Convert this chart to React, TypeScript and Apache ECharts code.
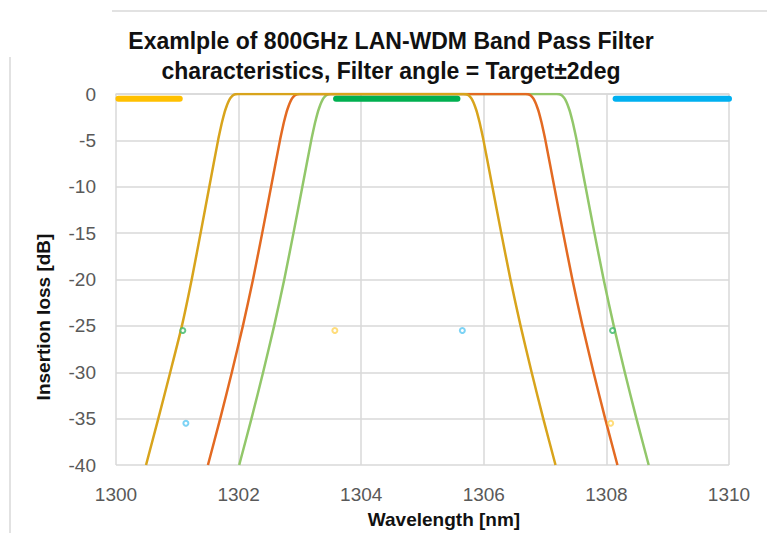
import React, { useEffect, useRef } from "react";
import * as echarts from "echarts";

// Filter transmission curves: [wavelength nm, insertion loss dB]
const goldCurve: number[][] = [
  [1300.49, -40], [1300.69, -35], [1300.885, -30], [1301.075, -25], [1301.235, -20],
  [1301.38, -15], [1301.522, -10], [1301.665, -5], [1301.697, -4], [1301.731, -3],
  [1301.77, -2], [1301.8, -1.4], [1301.83, -0.9], [1301.86, -0.5], [1301.89, -0.25],
  [1301.92, -0.1], [1301.95, -0.03], [1301.99, 0],
  [1305.67, 0], [1305.71, -0.03], [1305.74, -0.1], [1305.77, -0.25], [1305.8, -0.5],
  [1305.83, -0.9], [1305.86, -1.4], [1305.89, -2], [1305.929, -3], [1305.963, -4],
  [1305.995, -5], [1306.14, -10], [1306.285, -15], [1306.435, -20], [1306.6, -25],
  [1306.78, -30], [1306.97, -35], [1307.17, -40],
];
const orangeCurve: number[][] = [
  [1301.5, -40], [1301.7, -35], [1301.89, -30], [1302.07, -25], [1302.235, -20],
  [1302.385, -15], [1302.53, -10], [1302.675, -5], [1302.707, -4], [1302.741, -3],
  [1302.78, -2], [1302.81, -1.4], [1302.84, -0.9], [1302.87, -0.5], [1302.9, -0.25],
  [1302.93, -0.1], [1302.96, -0.03], [1303.0, 0],
  [1306.68, 0], [1306.72, -0.03], [1306.75, -0.1], [1306.78, -0.25], [1306.81, -0.5],
  [1306.84, -0.9], [1306.87, -1.4], [1306.9, -2], [1306.939, -3], [1306.973, -4],
  [1307.005, -5], [1307.15, -10], [1307.295, -15], [1307.445, -20], [1307.61, -25],
  [1307.79, -30], [1307.98, -35], [1308.18, -40],
];
const greenCurve: number[][] = [
  [1302.01, -40], [1302.21, -35], [1302.4, -30], [1302.58, -25], [1302.745, -20],
  [1302.895, -15], [1303.04, -10], [1303.185, -5], [1303.217, -4], [1303.251, -3],
  [1303.29, -2], [1303.32, -1.4], [1303.35, -0.9], [1303.38, -0.5], [1303.41, -0.25],
  [1303.44, -0.1], [1303.47, -0.03], [1303.51, 0],
  [1307.19, 0], [1307.23, -0.03], [1307.26, -0.1], [1307.29, -0.25], [1307.32, -0.5],
  [1307.35, -0.9], [1307.38, -1.4], [1307.41, -2], [1307.449, -3], [1307.483, -4],
  [1307.515, -5], [1307.66, -10], [1307.805, -15], [1307.955, -20], [1308.12, -25],
  [1308.3, -30], [1308.49, -35], [1308.69, -40],
];

// Channel pass bands (thick bars)
const yellowBand: number[][] = [[1300.04, -0.5], [1301.04, -0.5]];
const greenBand: number[][] = [[1303.59, -0.5], [1305.57, -0.5]];
const blueBand: number[][] = [[1308.15, -0.5], [1310.0, -0.5]];

// Spec markers
const greenMarks: number[][] = [[1301.09, -25.5], [1308.1, -25.5]];
const yellowMarks: number[][] = [[1303.57, -25.5], [1308.07, -35.5]];
const blueMarks: number[][] = [[1301.14, -35.5], [1305.65, -25.5]];

const titleLines = [
  "Examlple of 800GHz LAN-WDM Band Pass Filter",
  "characteristics, Filter angle = Target±2deg",
];
const xName = "Wavelength [nm]";
const yName = "Insertion loss [dB]";

const FONT = "'Liberation Sans', Arial, sans-serif";

export default function App() {
  const ref = useRef<HTMLDivElement>(null);
  useEffect(() => {
    if (!ref.current) return;
    const chart = echarts.init(ref.current, null, { renderer: "svg" });
    const curve = (data: number[][], color: string) => ({
      type: "line",
      data,
      showSymbol: false,
      symbol: "none",
      smooth: 0.2,
      lineStyle: { color, width: 2.5, join: "round" },
      z: 2,
    });
    const band = (data: number[][], color: string) => ({
      type: "line",
      data,
      symbol: "none",
      lineStyle: { color, width: 6, cap: "round" },
      z: 3,
    });
    const marks = (data: number[][], color: string) => ({
      type: "scatter",
      data,
      symbol: "emptyCircle",
      symbolSize: 5,
      itemStyle: { color, borderColor: color, borderWidth: 1.5 },
      z: 5,
    });
    chart.setOption({
      animation: false,
      backgroundColor: "#ffffff",
      grid: { left: 116, right: 38, top: 94, bottom: 68, containLabel: false },
      xAxis: {
        type: "value",
        min: 1300,
        max: 1310,
        interval: 2,
        axisLine: { show: true, lineStyle: { color: "#d9d9d9", width: 1.5 } },
        axisTick: { show: false },
        axisLabel: {
          color: "#595959",
          fontSize: 19,
          fontFamily: FONT,
          margin: 20,
          formatter: (v: number) => String(v),
        },
        splitLine: { show: true, lineStyle: { color: "#d9d9d9", width: 1.5 } },
      },
      yAxis: {
        type: "value",
        min: -40,
        max: 0,
        interval: 5,
        axisLine: { show: false },
        axisTick: { show: false },
        axisLabel: { color: "#595959", fontSize: 19, fontFamily: FONT, margin: 20 },
        splitLine: { show: true, lineStyle: { color: "#d9d9d9", width: 1.5 } },
      },
      graphic: [
        { type: "line", shape: { x1: 112, y1: 11, x2: 767, y2: 11 }, style: { stroke: "#d9d9d9", lineWidth: 1.5 }, silent: true },
        { type: "line", shape: { x1: 10, y1: 57, x2: 10, y2: 533 }, style: { stroke: "#d9d9d9", lineWidth: 1.5 }, silent: true },
        {
          type: "text",
          x: 391,
          y: 56,
          style: {
            text: titleLines.join("\n"),
            align: "center",
            verticalAlign: "middle",
            font: `bold 23px ${FONT}`,
            lineHeight: 30,
            fill: "#111111",
          },
        },
        {
          type: "text",
          x: 444,
          y: 519,
          style: { text: xName, align: "center", verticalAlign: "middle", font: `bold 19px ${FONT}`, fill: "#111111" },
        },
        {
          type: "text",
          x: 43,
          y: 317,
          rotation: Math.PI / 2,
          style: { text: yName, align: "center", verticalAlign: "middle", font: `bold 19px ${FONT}`, fill: "#111111" },
        },
      ],
      series: [
        curve(greenCurve, "#92c76a"),
        curve(orangeCurve, "#e36a22"),
        curve(goldCurve, "#d8a41c"),
        band(yellowBand, "#ffc000"),
        band(greenBand, "#00b050"),
        band(blueBand, "#00b0f0"),
        marks(greenMarks, "#3cb96a"),
        marks(yellowMarks, "#ffd45a"),
        marks(blueMarks, "#5cc8f2"),
      ],
    });
    return () => chart.dispose();
  }, []);
  return (
    <div
      ref={ref}
      style={{ position: "fixed", left: 0, top: 0, width: 767, height: 533, background: "#fff" }}
    />
  );
}
